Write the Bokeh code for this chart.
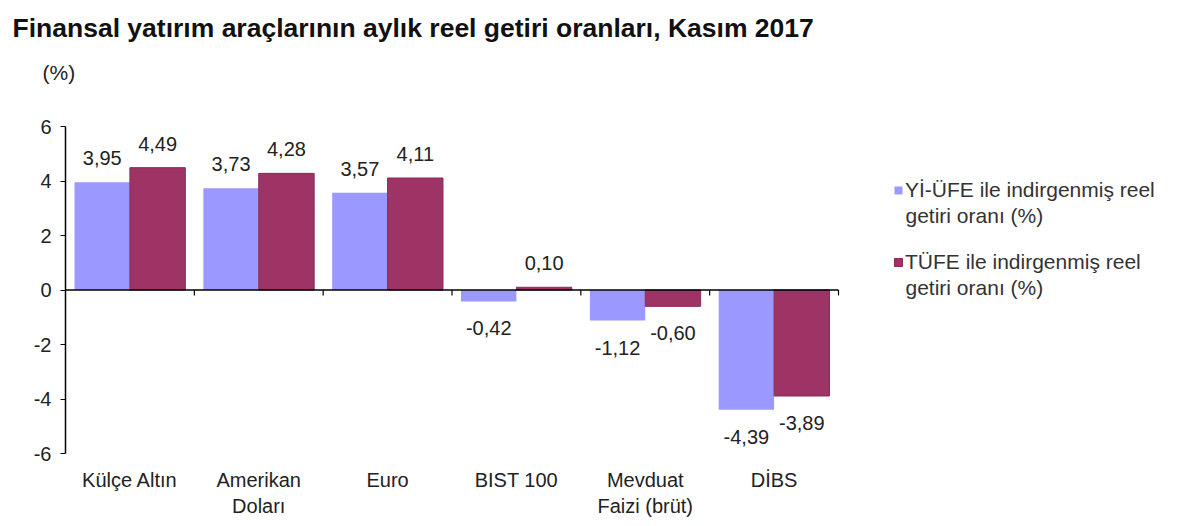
from bokeh.plotting import figure
from bokeh.models import (Range1d, FixedTicker, Legend, LegendItem,
                          Label, ColumnDataSource)
from bokeh.core.properties import value
from bokeh.embed import file_html
from bokeh.resources import INLINE

# chart data
categories = ["Külçe Altın", "Amerikan\nDoları", "Euro", "BIST 100",
              "Mevduat\nFaizi (brüt)", "DİBS"]
yi_ufe = [3.95, 3.73, 3.57, -0.42, -1.12, -4.39]
tufe = [4.49, 4.28, 4.11, 0.10, -0.60, -3.89]
y_ticks = [-6, -4, -2, 0, 2, 4, 6]
series_names = ["Yİ-ÜFE ile indirgenmiş reel\ngetiri oranı (%)",
                "TÜFE ile indirgenmiş reel\ngetiri oranı (%)"]
title_text = "Finansal yatırım araçlarının aylık reel getiri oranları, Kasım 2017"

FONT = "Liberation Sans"
COLORS = ["#9B99FF", "#9E3366"]
EDGES = [None, "#8A2A58"]
TEXT = "#222222"
BAR_W = 0.43

# layout: the frame covers the whole canvas, the plot area sits inside it
W, H = 1200, 526
AREA_LEFT, AREA_RIGHT, AREA_TOP, AREA_BOTTOM = 65, 838, 126, 453
LEGEND_X, LEGEND_Y0, LEGEND_PITCH, LINE_GAP = 893, 190, 72, 25
n = len(categories)
px_x = (AREA_RIGHT - AREA_LEFT) / n
px_y = (AREA_BOTTOM - AREA_TOP) / (y_ticks[-1] - y_ticks[0])
x0 = 0.5 - AREA_LEFT / px_x
y0 = y_ticks[0] - (H - AREA_BOTTOM) / px_y

p = figure(
    width=W, height=H,
    x_range=Range1d(x0, x0 + W / px_x),
    y_range=Range1d(y0, y0 + H / px_y),
    output_backend="svg", toolbar_location=None, tools="",
    min_border=0,
)
p.outline_line_color = None
p.grid.visible = False

# title and unit
p.add_layout(Label(x=12, y=H - 12, x_units="screen", y_units="screen",
                   text=title_text, text_font=FONT, text_font_size="26.5px",
                   text_font_style="bold", text_color="#111111",
                   text_baseline="top"))
p.add_layout(Label(x=42, y=H - 60, x_units="screen", y_units="screen",
                   text="(%)", text_font=FONT, text_font_size="21px",
                   text_color=TEXT, text_baseline="top"))

# y axis, fixed at the left edge of the first category
p.yaxis.fixed_location = 0.5
p.yaxis.bounds = (y_ticks[0], y_ticks[-1])
p.yaxis.ticker = FixedTicker(ticks=y_ticks)
p.yaxis.major_label_overrides = {t: str(t) for t in y_ticks}
p.yaxis.major_label_text_font = FONT
p.yaxis.major_label_text_font_size = "20px"
p.yaxis.major_label_text_color = TEXT
p.yaxis.major_label_standoff = 9
p.yaxis.axis_line_color = "black"
p.yaxis.axis_line_width = 1.5
p.yaxis.major_tick_in = 0
p.yaxis.major_tick_out = 5
p.yaxis.minor_tick_line_color = None

# x axis: category labels only, under the plot area
xs = list(range(1, n + 1))
p.xaxis.fixed_location = y_ticks[0]
p.xaxis.ticker = FixedTicker(ticks=xs)
p.xaxis.major_label_overrides = {x: c for x, c in zip(xs, categories)}
p.xaxis.major_label_text_font = FONT
p.xaxis.major_label_text_font_size = "20px"
p.xaxis.major_label_text_color = TEXT
p.xaxis.axis_line_color = None
p.xaxis.major_tick_line_color = None
p.xaxis.minor_tick_line_color = None
p.xaxis.major_label_standoff = 9

# bars with value labels
renderers = []
for i, (vals, color, edge) in enumerate(zip([yi_ufe, tufe], COLORS, EDGES)):
    shift = (i - 0.5) * BAR_W
    src = ColumnDataSource(dict(
        x=[x + shift for x in xs], top=vals, bottom=[0] * len(vals),
        label=[f"{v:.2f}".replace(".", ",") for v in vals],
        dy=[-24 if v >= 0 else 27 for v in vals],
    ))
    r = p.vbar(x="x", top="top", bottom="bottom", width=BAR_W, source=src,
               fill_color=color, line_color=edge, line_width=1)
    renderers.append(r)
    p.text(x="x", y="top", text="label", y_offset="dy", source=src,
           text_align="center", text_baseline="middle",
           text_font=value(FONT), text_font_size="20px", text_color=TEXT)

# zero line with category boundary ticks
p.segment(x0=[0.5], x1=[n + 0.5], y0=[0], y1=[0],
          line_color="black", line_width=1.5)
bounds = [x + 0.5 for x in xs]
p.segment(x0=bounds, x1=bounds, y0=[0] * n, y1=[-0.2] * n,
          line_color="black", line_width=1.2)

# legend: first line of each name beside the swatch, second line below it
first_lines = [s.split("\n")[0] for s in series_names]
second_lines = [s.split("\n")[1] for s in series_names]
legend = Legend(
    items=[LegendItem(label=s, renderers=[r]) for s, r in zip(first_lines, renderers)],
    location=(LEGEND_X, H - (LEGEND_Y0 + LEGEND_PITCH) - 12),
    orientation="vertical",
    label_text_font=FONT, label_text_font_size="21px",
    label_text_color="#333333", label_height=24, label_text_baseline="middle",
    glyph_width=10, glyph_height=10, spacing=LEGEND_PITCH - 24, padding=0,
    label_standoff=2, border_line_color=None, background_fill_alpha=0,
)
p.add_layout(legend, "center")
for k, s in enumerate(second_lines):
    p.add_layout(Label(x=LEGEND_X + 12, y=H - (LEGEND_Y0 + k * LEGEND_PITCH + LINE_GAP),
                       x_units="screen", y_units="screen", text=s,
                       text_font=FONT, text_font_size="21px",
                       text_color="#333333", text_baseline="middle"))

open("out.html", "w").write(file_html(p, INLINE))
